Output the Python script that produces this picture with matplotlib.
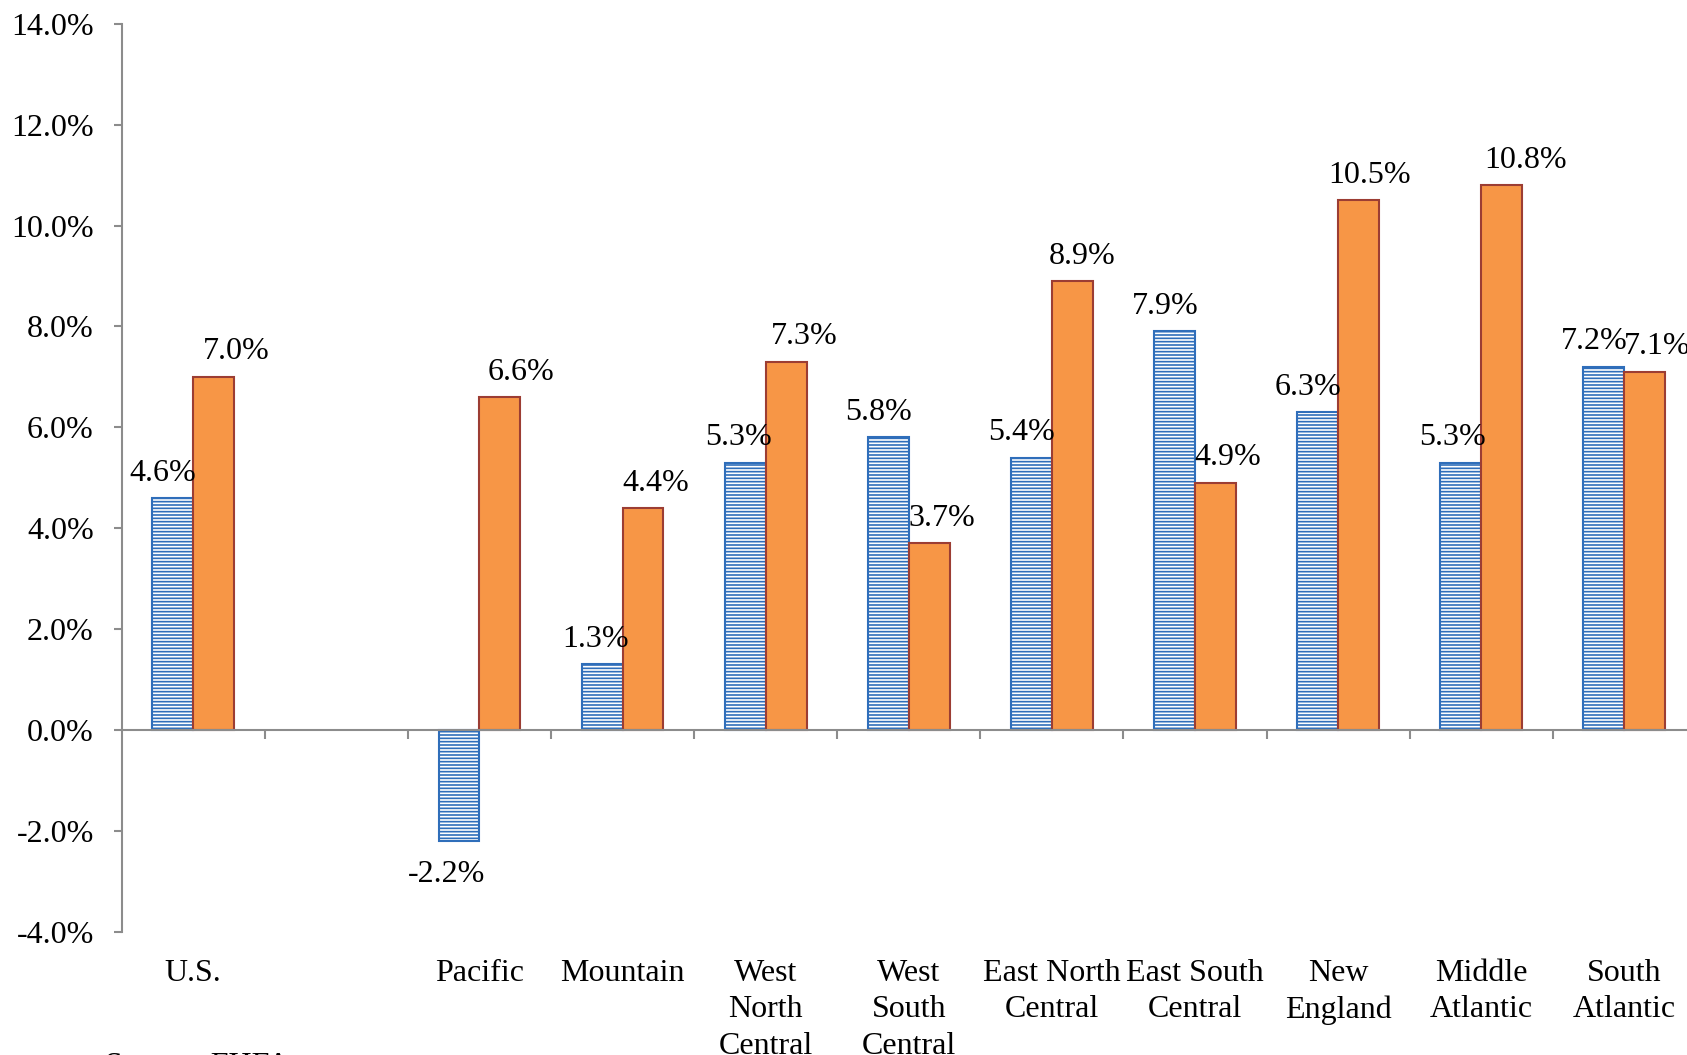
import numpy as np
import matplotlib
matplotlib.use("Agg")
import matplotlib.pyplot as plt

categories = ["U.S.", "", "Pacific", "Mountain", "West\nNorth\nCentral",
              "West\nSouth\nCentral", "East North\nCentral", "East South\nCentral",
              "New\nEngland", "Middle\nAtlantic", "South\nAtlantic"]
series_a = [4.6, np.nan, -2.2, 1.3, 5.3, 5.8, 5.4, 7.9, 6.3, 5.3, 7.2]
series_b = [7.0, np.nan, 6.6, 4.4, 7.3, 3.7, 8.9, 4.9, 10.5, 10.8, 7.1]
y_ticks = [-4, -2, 0, 2, 4, 6, 8, 10, 12, 14]

# label nudges in points (the source chart had hand-placed labels)
dx_a = [-7, 0, -9, -5, -5, -7, -7, -7, -7, -6, -7]
dx_b = [16, 0, 15, 9, 13, 9, 7, 9, 8, 17, 9]

plt.rcParams['font.family'] = ['Liberation Serif', 'DejaVu Serif']
plt.rcParams['hatch.linewidth'] = 1.2
FS = 23
GRAY = '#8c8c8c'

fig = plt.figure(figsize=(16.87, 10.55), dpi=100)
ax = fig.add_axes([0.0721, 0.1169, 0.9332, 0.8606])

x = np.arange(len(categories))
w = 1 / 3.5

bars_a = ax.bar(x - w / 2, series_a, w, facecolor='white', edgecolor='#2f6eba',
                hatch='-----', linewidth=1.5, zorder=2)
bars_b = ax.bar(x + w / 2, series_b, w, facecolor='#f79646', edgecolor='#9c3d33',
                linewidth=1.5, zorder=2)

for bars, vals, dxs in [(bars_a, series_a, dx_a), (bars_b, series_b, dx_b)]:
    for b, v, dx in zip(bars, vals, dxs):
        if np.isnan(v):
            continue
        cx = b.get_x() + b.get_width() / 2
        if v >= 0:
            ax.annotate(f"{v:.1f}%", (cx, v), xytext=(dx, 12.5),
                        textcoords='offset points', ha='center', va='baseline',
                        fontsize=FS)
        else:
            ax.annotate(f"{v:.1f}%", (cx, v), xytext=(dx, -13.7),
                        textcoords='offset points', ha='center', va='top',
                        fontsize=FS)

ax.set_xlim(-0.5, len(categories) - 0.5)
ax.set_ylim(-4, 14)
ax.set_yticks(y_ticks)
ax.set_yticklabels([f"{t:.1f}%" for t in y_ticks], fontsize=FS)
ax.tick_params(axis='y', length=6, width=1.5, color=GRAY, pad=14)

ax.set_xticks(x[:-1] + 0.5)
ax.set_xticklabels([])
ax.tick_params(axis='x', length=6.5, width=1.5, color=GRAY, direction='out')

ax.spines['top'].set_visible(False)
ax.spines['right'].set_visible(False)
ax.spines['bottom'].set_position(('data', 0))
for s in ['left', 'bottom']:
    ax.spines[s].set_color(GRAY)
    ax.spines[s].set_linewidth(1.5)

for i, lab in enumerate(categories):
    ax.annotate(lab, (i, -4), xytext=(0, -19.5), textcoords='offset points',
                ha='center', va='top', fontsize=FS, linespacing=1.34,
                annotation_clip=False)

fig.text(105 / 1687, 0.003, "Source: FHFA.", fontsize=FS, ha='left', va='top')

fig.savefig("out.png", dpi=100)
